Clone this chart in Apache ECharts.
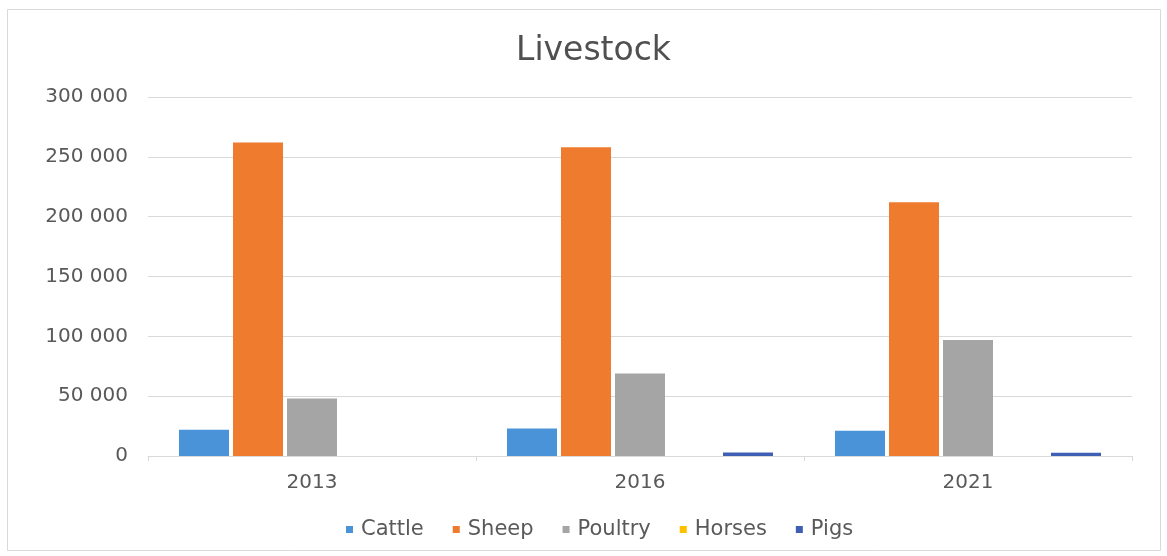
<!DOCTYPE html>
<html>
<head>
<meta charset="utf-8">
<title>Livestock</title>
<script src="https://cdn.jsdelivr.net/npm/echarts@6/dist/echarts.min.js"></script>
<style>
  html, body { margin: 0; padding: 0; background: #ffffff; }
  #chart { width: 1167px; height: 556px; }
</style>
</head>
<body>
<div id="chart"></div>
<script>
// Livestock counts by census year
const years = ['2013', '2016', '2021'];
const cattle  = [22000, 23000, 21000];
const sheep   = [262000, 258000, 212000];
const poultry = [48000, 69000, 97000];
const horses  = [0, 0, 0];
const pigs    = [0, 3000, 2800];

const seriesNames  = ['Cattle', 'Sheep', 'Poultry', 'Horses', 'Pigs'];
const seriesValues = [cattle, sheep, poultry, horses, pigs];
const seriesColors = ['#4a93d8', '#ee7b2e', '#a5a5a5', '#ffc000', '#3f5fb5'];

const FONT = 'DejaVu Sans';
const TEXT = '#595959';

// Space as thousands separator: 250000 -> "250 000"
function fmtThousands(v) {
  return String(v).replace(/\B(?=(\d{3})+(?!\d))/g, ' ');
}

const chart = echarts.init(document.getElementById('chart'), null, { renderer: 'canvas' });

chart.setOption({
  backgroundColor: '#ffffff',
  animation: false,
  color: seriesColors,
  graphic: [{
    type: 'rect',
    shape: { x: 7.5, y: 9.5, width: 1153, height: 541 },
    style: { fill: 'none', stroke: '#d9d9d9', lineWidth: 1 },
    silent: true,
    z: -1
  }],
  title: {
    text: 'Livestock',
    left: 511,
    top: 30,
    textStyle: { fontFamily: FONT, fontSize: 33, fontWeight: 'normal', color: '#505050' }
  },
  legend: {
    data: seriesNames,
    left: 341,
    bottom: 11,
    icon: 'rect',
    itemWidth: 7,
    itemHeight: 7,
    itemGap: 29,
    textStyle: { fontFamily: FONT, fontSize: 21, color: TEXT, padding: [0, 0, 0, 3] }
  },
  grid: { left: 148, right: 35, top: 97, bottom: 100, containLabel: false },
  xAxis: {
    type: 'category',
    data: years,
    axisLine: { show: true, lineStyle: { color: '#d9d9d9', width: 1 } },
    axisTick: { show: true, alignWithLabel: false, length: 5, lineStyle: { color: '#d9d9d9' } },
    axisLabel: { fontFamily: FONT, fontSize: 20, color: TEXT, margin: 17 }
  },
  yAxis: {
    type: 'value',
    min: 0,
    max: 300000,
    interval: 50000,
    axisLine: { show: false },
    axisTick: { show: false },
    splitLine: { lineStyle: { color: '#d9d9d9', width: 1 } },
    axisLabel: {
      fontFamily: FONT, fontSize: 20, color: TEXT, margin: 20,
      formatter: fmtThousands
    }
  },
  series: seriesNames.map((name, i) => ({
    name: name,
    type: 'bar',
    data: seriesValues[i],
    barWidth: 50,
    barGap: '8%',
    itemStyle: { color: seriesColors[i] }
  }))
});
</script>
</body>
</html>
